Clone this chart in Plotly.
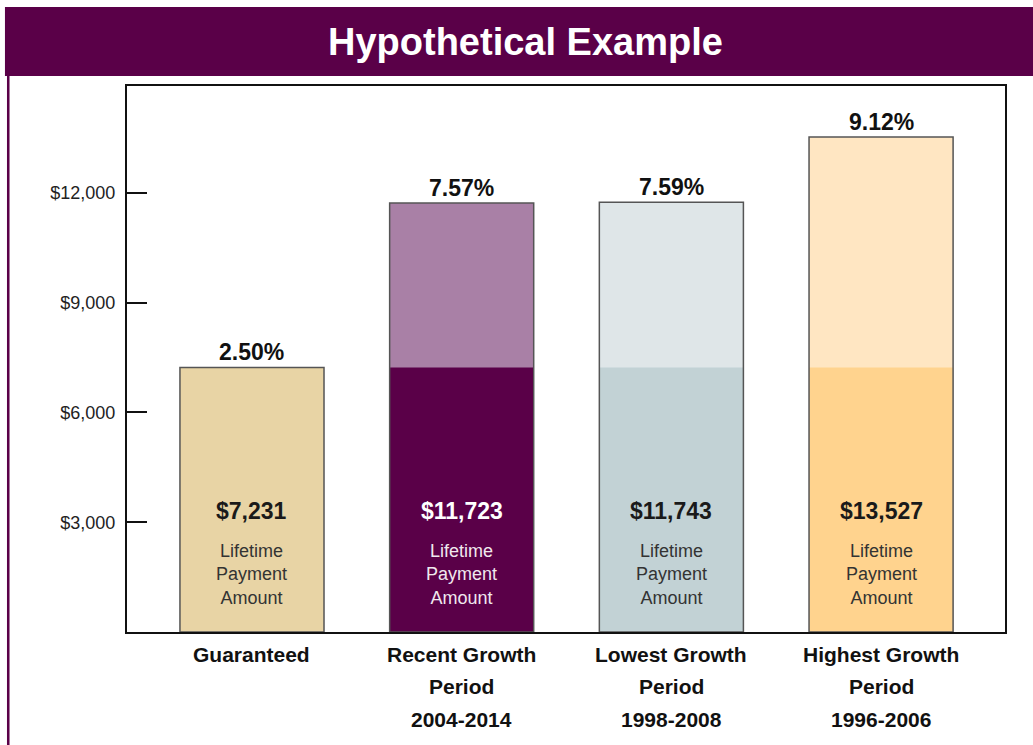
import plotly.graph_objects as go

# ---- data ----
categories = ["Guaranteed", "Recent Growth<br>Period<br>2004-2014",
              "Lowest Growth<br>Period<br>1998-2008", "Highest Growth<br>Period<br>1996-2006"]
guaranteed_base = [7231, 7231, 7231, 7231]
totals = [7231, 11723, 11743, 13527]
rates = ["2.50%", "7.57%", "7.59%", "9.12%"]
amount_labels = ["$7,231", "$11,723", "$11,743", "$13,527"]
y_tick_vals = [3000, 6000, 9000, 12000]
y_tick_text = ["$3,000", "$6,000", "$9,000", "$12,000"]

base_colors = ["#E8D4A5", "#5A0048", "#C2D2D5", "#FFD38E"]
top_colors = ["#E8D4A5", "#A980A6", "#DFE6E8", "#FFE6C2"]
inner_text_colors = ["#1a1a1a", "#ffffff", "#1a1a1a", "#1a1a1a"]

NARROW = "Liberation Sans Narrow, Liberation Sans, Arial, sans-serif"
REG = "Liberation Sans, Arial, Helvetica, sans-serif"
PURPLE = "#5A0048"

x = list(range(len(categories)))
BW = 0.687

fig = go.Figure()
fig.add_trace(go.Bar(x=x, y=totals, width=BW, marker=dict(color=top_colors, line=dict(width=0)),
                     hoverinfo="skip", showlegend=False))
fig.add_trace(go.Bar(x=x, y=guaranteed_base, width=BW, marker=dict(color=base_colors, line=dict(width=0)),
                     hoverinfo="skip", showlegend=False))
fig.add_trace(go.Bar(x=x, y=totals, width=BW,
                     marker=dict(color="rgba(0,0,0,0)", line=dict(width=1.5, color="#555555")),
                     hoverinfo="skip", showlegend=False))

annotations = []
for i in x:
    annotations.append(dict(x=i, y=totals[i], xref="x", yref="y", text=rates[i], showarrow=False,
                            yanchor="bottom", yshift=0,
                            font=dict(family=NARROW, size=23, color="#111111", weight="bold")))
    annotations.append(dict(x=i, y=3306, xref="x", yref="y", text=amount_labels[i], showarrow=False,
                            yanchor="middle",
                            font=dict(family=NARROW, size=23, color=inner_text_colors[i], weight="bold")))
    annotations.append(dict(x=i, y=1585, xref="x", yref="y", text="Lifetime<br>Payment<br>Amount",
                            showarrow=False, yanchor="middle",
                            font=dict(family=REG, size=18,
                                      color="#f0e8ee" if i == 1 else "#333333")))
    # category labels below the axis, one annotation per line for exact line spacing
    for k, line in enumerate(categories[i].split("<br>")):
        annotations.append(dict(x=i, y=-0.0403 - 0.0604 * k, xref="x", yref="paper", text=line,
                                showarrow=False, xanchor="center", yanchor="middle",
                                font=dict(family=NARROW, size=21, color="#111111", weight="bold")))

annotations.append(dict(x=0.4544, y=1.0806, xref="paper", yref="paper", text="Hypothetical Example",
                        showarrow=False, xanchor="center", yanchor="middle",
                        font=dict(family=NARROW, size=38, color="#ffffff", weight="bold")))

shapes = [
    dict(type="rect", xref="paper", yref="paper", x0=-0.139, x1=1.04, y0=1.0183, y1=1.1447,
         fillcolor=PURPLE, line=dict(width=0), layer="below"),
    dict(type="rect", xref="paper", yref="paper", x0=-0.1367, x1=-0.1338, y0=-0.21, y1=1.03,
         fillcolor=PURPLE, line=dict(width=0), layer="below"),
]

fig.update_layout(
    width=1033, height=745, autosize=False,
    margin=dict(l=127, r=28, t=86, b=113),
    paper_bgcolor="white", plot_bgcolor="white",
    barmode="overlay",
    annotations=annotations, shapes=shapes,
    xaxis=dict(range=[-0.596, 3.591], tickvals=x, ticktext=["" for _ in x], showline=True, mirror=True,
               linecolor="#111111", linewidth=2, ticks="", showgrid=False, zeroline=False),
    yaxis=dict(range=[0, 14920], tickvals=y_tick_vals, ticktext=y_tick_text, showline=True, mirror=True,
               linecolor="#111111", linewidth=2, ticks="inside", ticklen=20, tickwidth=2,
               tickcolor="#111111", showgrid=False, zeroline=False, ticklabelstandoff=6,
               tickfont=dict(family=NARROW, size=18, color="#222222")),
)

fig.write_html("out.html")
